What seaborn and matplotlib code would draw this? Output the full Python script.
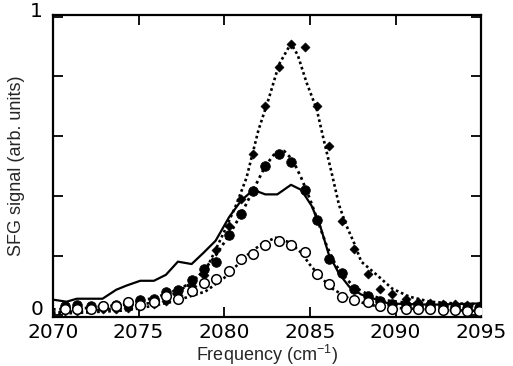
import numpy as np
import pandas as pd
import matplotlib
matplotlib.use('Agg')
import matplotlib.pyplot as plt
import seaborn as sns

# measured points (same frequency grid for all three data sets)
freq = [2070.7, 2071.4, 2072.2, 2072.9, 2073.7, 2074.4, 2075.1, 2075.9, 2076.6, 2077.3,
        2078.1, 2078.8, 2079.5, 2080.3, 2081.0, 2081.7, 2082.4, 2083.2, 2083.9, 2084.7,
        2085.4, 2086.1, 2086.9, 2087.6, 2088.4, 2089.1, 2089.8, 2090.6, 2091.3, 2092.0,
        2092.8, 2093.5, 2094.2, 2094.9]
open_sig = [0.023, 0.023, 0.023, 0.03, 0.03, 0.046, 0.036, 0.046, 0.066, 0.056,
            0.083, 0.11, 0.122, 0.15, 0.19, 0.205, 0.235, 0.25, 0.235, 0.212,
            0.14, 0.106, 0.063, 0.053, 0.046, 0.03, 0.023, 0.02, 0.02, 0.02,
            0.018, 0.018, 0.016, 0.016]
filled_sig = [0.033, 0.036, 0.033, 0.033, 0.036, 0.04, 0.053, 0.056, 0.08, 0.086,
              0.12, 0.155, 0.18, 0.27, 0.338, 0.417, 0.50, 0.54, 0.513, 0.42,
              0.32, 0.19, 0.142, 0.089, 0.066, 0.05, 0.04, 0.035, 0.03, 0.03,
              0.03, 0.028, 0.026, 0.026]
diamond_sig = [0.015, 0.015, 0.02, 0.02, 0.02, 0.025, 0.03, 0.04, 0.05, 0.07,
               0.10, 0.135, 0.22, 0.30, 0.39, 0.54, 0.70, 0.83, 0.907, 0.897,
               0.70, 0.566, 0.315, 0.222, 0.14, 0.09, 0.073, 0.056, 0.046, 0.043,
               0.04, 0.04, 0.035, 0.03]

# solid trace
solid_x = [2070.0, 2070.8, 2071.4, 2072.9, 2073.7, 2074.3, 2075.1, 2075.9, 2076.6, 2077.3,
           2078.1, 2078.8, 2079.5, 2080.3, 2081.0, 2081.7, 2082.4, 2083.1, 2083.9, 2084.5,
           2085.1, 2085.6, 2086.1, 2086.7, 2087.3, 2088.0, 2088.9, 2089.6, 2092.1, 2094.9]
solid_y = [0.053, 0.046, 0.056, 0.056, 0.086, 0.10, 0.116, 0.116, 0.136, 0.18,
           0.172, 0.21, 0.25, 0.33, 0.385, 0.42, 0.405, 0.405, 0.437, 0.42,
           0.367, 0.30, 0.205, 0.14, 0.096, 0.07, 0.053, 0.04, 0.036, 0.04]

# dotted fit curves
dfit_x = [2070, 2072, 2074, 2076, 2077, 2078, 2079, 2080, 2080.7, 2081.3,
          2082, 2082.6, 2083.2, 2083.9, 2084.3, 2084.8, 2085.4, 2085.8, 2086.3, 2086.7,
          2087.1, 2087.6, 2088.0, 2088.9, 2089.8, 2090.8, 2092, 2093.5, 2095]
dfit_y = [0.01, 0.015, 0.025, 0.045, 0.07, 0.105, 0.16, 0.28, 0.37, 0.46,
          0.62, 0.725, 0.84, 0.91, 0.87, 0.78, 0.69, 0.59, 0.47, 0.37,
          0.305, 0.24, 0.18, 0.136, 0.09, 0.063, 0.046, 0.04, 0.038]
cfit_x = [2070, 2072, 2074, 2076, 2077.5, 2078.5, 2079.5, 2080.3, 2081.0, 2081.7,
          2082.4, 2083.0, 2083.5, 2084.0, 2084.5, 2085.0, 2085.5, 2086.0, 2086.5, 2087.0,
          2087.6, 2088.4, 2089.5, 2091, 2093, 2095]
cfit_y = [0.02, 0.025, 0.035, 0.06, 0.09, 0.13, 0.2, 0.27, 0.34, 0.42,
          0.50, 0.545, 0.55, 0.52, 0.46, 0.39, 0.31, 0.23, 0.17, 0.13,
          0.095, 0.07, 0.05, 0.04, 0.035, 0.03]
ofit_x = [2070, 2072, 2074, 2075, 2077, 2078.9, 2080.1, 2081.3, 2082.2, 2083,
          2083.8, 2084.5, 2085.0, 2085.6, 2086.3, 2087.3, 2088.5, 2090, 2092, 2095]
ofit_y = [0.005, 0.01, 0.016, 0.023, 0.046, 0.08, 0.13, 0.20, 0.24, 0.26,
          0.245, 0.21, 0.17, 0.13, 0.09, 0.056, 0.035, 0.025, 0.02, 0.015]

sns.set_style('ticks')
plt.rcParams['font.family'] = ['Liberation Sans', 'DejaVu Sans']

fig = plt.figure(figsize=(5.13, 3.66), dpi=100)
ax = fig.add_axes([0.103, 0.134, 0.835, 0.825])

sns.lineplot(x=solid_x, y=solid_y, ax=ax, color='black', lw=1.6)
sns.lineplot(x=dfit_x, y=dfit_y, ax=ax, color='black', lw=1.9, linestyle=(0, (1, 1.1)))
sns.lineplot(x=cfit_x, y=cfit_y, ax=ax, color='black', lw=2.0, linestyle=(0, (1, 1.3)))
sns.lineplot(x=ofit_x, y=ofit_y, ax=ax, color='black', lw=1.9, linestyle=(0, (1, 1.1)))

sns.scatterplot(x=freq, y=diamond_sig, ax=ax, marker='D', s=22, color='black', edgecolor='black', zorder=5)
sns.scatterplot(x=freq, y=filled_sig, ax=ax, marker='o', s=48, color='black', edgecolor='black', zorder=5)
sns.scatterplot(x=freq, y=open_sig, ax=ax, marker='o', s=48, facecolor='white', edgecolor='black',
                linewidth=1.1, zorder=6)

ax.set_xlim(2070, 2095)
ax.set_ylim(-0.005, 1.005)
ax.set_xticks([2070, 2075, 2080, 2085, 2090, 2095])
ax.set_xticklabels(['2070', '2075', '2080', '2085', '2090', '2095'],
                   fontfamily='DejaVu Sans', fontsize=14.5)
ax.set_yticks([0, 0.2, 0.4, 0.6, 0.8, 1.0])
ax.set_yticklabels(['0', '', '', '', '', '1'], fontfamily='DejaVu Sans', fontsize=14.5,
                   va='baseline')
ax.tick_params(direction='in', length=7, width=1.3, top=True, right=True, colors='black')
ax.tick_params(axis='x', pad=4)
ax.tick_params(axis='y', pad=7)
for s in ax.spines.values():
    s.set_linewidth(1.6)
    s.set_color('black')

ax.set_xlabel(r'Frequency (cm$^{\mathregular{-1}}$)', fontsize=13, fontfamily='Liberation Sans')
ax.xaxis.set_label_coords(0.5, -0.085)
ax.set_ylabel('SFG signal (arb. units)', fontsize=13, fontfamily='Liberation Sans', labelpad=4)

fig.savefig('out.png', dpi=100)
